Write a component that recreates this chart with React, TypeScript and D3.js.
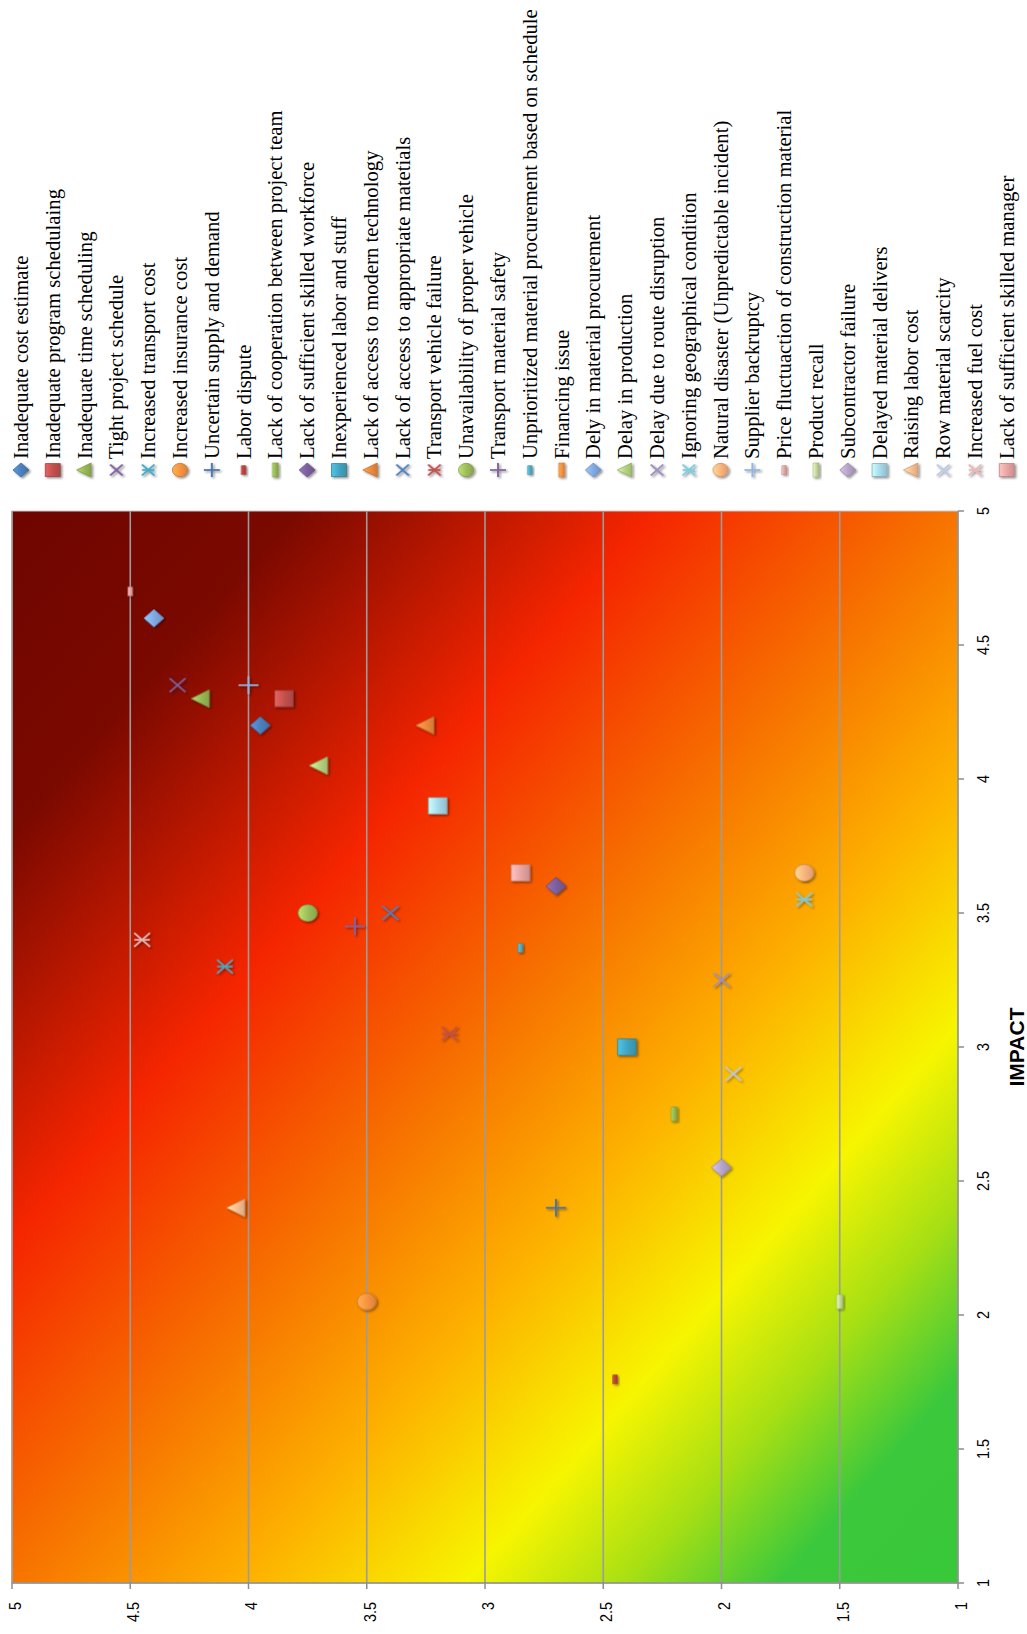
import React from 'react';
import * as d3 from 'd3';

const riskFactors: string[] = [
  'Inadequate cost estimate',
  'Inadequate program schedulaing',
  'Inadequate time scheduling',
  'Tight project schedule',
  'Increased transport cost',
  'Increased insurance cost',
  'Uncertain supply and demand',
  'Labor dispute',
  'Lack of cooperation between project team',
  'Lack of sufficient skilled workforce',
  'Inexperienced labor and stuff',
  'Lack of access to modern technology',
  'Lack of access to appropriate matetials',
  'Transport vehicle failure',
  'Unavailability of proper vehicle',
  'Transport material safety',
  'Unprioritized material procurement based on schedule',
  'Financing issue',
  'Dely in material procurement',
  'Delay in production',
  'Delay due to route disruption',
  'Ignoring geographical condition',
  'Natural disaster (Unpredictable incident)',
  'Supplier backruptcy',
  'Price fluctuaction of construction material',
  'Product recall',
  'Subcontractor failure',
  'Delayed material delivers',
  'Raising labor cost',
  'Row material scarcity',
  'Increased fuel cost',
  'Lack of sufficient skilled manager',
];

const impactValues: number[] = [
  4.2, 4.3, 4.3, 4.35, 3.3, 2.05, 2.4, 1.76, 2.75, 3.6, 3.0, 4.2, 3.5, 3.05, 3.5, 3.45,
  3.37, 3.65, 4.6, 4.05, 3.25, 3.55, 3.65, 4.35, 4.7, 2.05, 2.55, 3.9, 2.4, 2.9, 3.4, 3.65,
];

const probabilityValues: number[] = [
  3.95, 3.85, 4.2, 4.3, 4.1, 3.5, 2.7, 2.45, 2.2, 2.7, 2.4, 3.25, 3.4, 3.15, 3.75, 3.55,
  2.85, 1.65, 4.4, 3.7, 2.0, 1.65, 1.65, 4.0, 4.5, 1.5, 2.0, 3.2, 4.05, 1.95, 4.45, 2.85,
];

const markerShapes: string[] = [
  'diamond', 'square', 'triangle', 'x', 'star', 'circle', 'plus', 'dot', 'dash',
  'diamond', 'square', 'triangle', 'x', 'star', 'circle', 'plus', 'dot', 'dash',
  'diamond', 'triangle', 'x', 'star', 'circle', 'plus', 'dot', 'dash',
  'diamond', 'square', 'triangle', 'x', 'star', 'square',
];

const seriesColors: string[] = [
  '#4a7ebb', '#c0504d', '#98b954', '#7d60a0', '#46aac5', '#f69240',
  '#4672b0', '#b8403d', '#93b552', '#7a5e9c', '#3fa3bf', '#ee8a3c',
  '#4f7fbe', '#c0504d', '#9bbb59', '#8064a2', '#4bacc6', '#f49040',
  '#7ea6e0', '#b5d47f', '#a08fc0', '#7fcce0', '#f9b27a', '#8eb4e3',
  '#e6a09e', '#c3d69b', '#b3a2c7', '#a5d8e8', '#fac090', '#b9c9e6',
  '#e6b9b8', '#e6a3a1',
];

const impactTicks: number[] = [1, 1.5, 2, 2.5, 3, 3.5, 4, 4.5, 5];
const probabilityTicks: number[] = [1, 1.5, 2, 2.5, 3, 3.5, 4, 4.5, 5];

const W = 1027;
const H = 1634;
// unrotated frame: width = H, height = W
const plot = { left: 51, right: 1123, top: 12, bottom: 958 };

const xScale = d3.scaleLinear().domain([1, 5]).range([plot.left, plot.right]);
const yScale = d3.scaleLinear().domain([1, 5]).range([plot.bottom, plot.top]);

const bgStops: [number, string][] = [
  [0, '#6f0500'],
  [0.15, '#7a0900'],
  [0.34, '#f52500'],
  [0.5, '#f77400'],
  [0.62, '#fdb000'],
  [0.74, '#f7f500'],
  [0.825, '#a6df14'],
  [0.905, '#3cc83c'],
  [1, '#38c838'],
];

function Marker({ shape, color, gid, s }: { shape: string; color: string; gid: string; s: number }) {
  const dark = (d3.color(color) as d3.RGBColor).darker(0.7).formatHex();
  const fill = `url(#${gid})`;
  const sw = 0.8;
  const a = s * 0.78;
  switch (shape) {
    case 'diamond':
      return <path d={`M0,${-s}L${s},0L0,${s}L${-s},0Z`} fill={fill} stroke={dark} strokeWidth={sw} />;
    case 'square':
      return <rect x={-s * 0.92} y={-s * 0.92} width={s * 1.84} height={s * 1.84} fill={fill} stroke={dark} strokeWidth={sw} />;
    case 'triangle':
      return <path d={`M0,${-s}L${s},${s * 0.8}L${-s},${s * 0.8}Z`} fill={fill} stroke={dark} strokeWidth={sw} />;
    case 'circle':
      return <circle r={s * 0.95} fill={fill} stroke={dark} strokeWidth={sw} />;
    case 'x':
      return (
        <g stroke={color} strokeWidth={1.9}>
          <line x1={-a} y1={-a} x2={a} y2={a} />
          <line x1={-a} y1={a} x2={a} y2={-a} />
        </g>
      );
    case 'star':
      return (
        <g stroke={color} strokeWidth={1.9}>
          <line x1={-a} y1={-a} x2={a} y2={a} />
          <line x1={-a} y1={a} x2={a} y2={-a} />
          <line x1={0} y1={-a} x2={0} y2={a} />
        </g>
      );
    case 'plus':
      return (
        <g stroke={color} strokeWidth={1.9}>
          <line x1={-s} y1={0} x2={s} y2={0} />
          <line x1={0} y1={-s} x2={0} y2={s} />
        </g>
      );
    case 'dot':
      return <rect x={-5} y={-2.2} width={10} height={4.4} fill={fill} stroke={dark} strokeWidth={0.5} />;
    case 'dash':
      return <rect x={-8} y={-3} width={16} height={6} fill={fill} stroke={dark} strokeWidth={0.5} />;
    default:
      return null;
  }
}

export default function App() {
  const legendY = (i: number) => 21 + 31.8 * i;
  const legendMarkerX = H - 470;
  const legendTextX = H - 459;

  return (
    <svg
      width={W}
      height={H}
      viewBox={`0 0 ${W} ${H}`}
      style={{ position: 'absolute', left: 0, top: 0, background: '#fff' }}
    >
      <defs>
        <linearGradient id="bg" x1="1" y1="0" x2="0" y2="1">
          {bgStops.map(([o, c], i) => (
            <stop key={i} offset={o} stopColor={c} />
          ))}
        </linearGradient>
        {seriesColors.map((c, i) => {
          const col = d3.color(c) as d3.RGBColor;
          return (
            <linearGradient key={i} id={`m${i}`} x1="0" y1="0" x2="0" y2="1">
              <stop offset="0" stopColor={col.brighter(0.55).formatHex()} />
              <stop offset="0.55" stopColor={c} />
              <stop offset="1" stopColor={col.darker(0.35).formatHex()} />
            </linearGradient>
          );
        })}
        <filter id="shadow" x="-50%" y="-50%" width="200%" height="200%">
          <feDropShadow dx="-1.6" dy="1.6" stdDeviation="1.2" floodColor="#000" floodOpacity="0.45" />
        </filter>
      </defs>
      <g transform={`translate(0,${H}) rotate(-90)`}>
        {/* plot background */}
        <rect
          x={plot.left}
          y={plot.top}
          width={plot.right - plot.left}
          height={plot.bottom - plot.top}
          fill="url(#bg)"
          stroke="#c8c8c8"
          strokeWidth={1}
        />
        {/* gridlines */}
        {probabilityTicks.slice(1).map((t) => (
          <line
            key={t}
            x1={plot.left}
            x2={plot.right}
            y1={yScale(t)}
            y2={yScale(t)}
            stroke="#9c9c9c"
            strokeWidth={1.6}
          />
        ))}
        {/* axes */}
        <line x1={plot.left} x2={plot.left} y1={plot.top} y2={plot.bottom} stroke="#8c8c8c" strokeWidth={1.5} />
        <line x1={plot.left} x2={plot.right} y1={plot.bottom} y2={plot.bottom} stroke="#8c8c8c" strokeWidth={1.5} />
        {probabilityTicks.map((t) => (
          <g key={`pt${t}`}>
            <line x1={plot.left - 6} x2={plot.left} y1={yScale(t)} y2={yScale(t)} stroke="#8c8c8c" strokeWidth={1.5} />
            <text
              transform={`translate(32,${yScale(t) + 3}) scale(0.85,1)`}
              textAnchor="end"
              dy="0.35em"
              fontFamily="'Liberation Sans', Arial, sans-serif"
              fontSize={17}
              fill="#000"
            >
              {String(t)}
            </text>
          </g>
        ))}
        {impactTicks.map((t) => (
          <g key={`it${t}`}>
            <line x1={xScale(t)} x2={xScale(t)} y1={plot.bottom} y2={plot.bottom + 6} stroke="#8c8c8c" strokeWidth={1.5} />
            <text
              transform={`translate(${xScale(t)},989) scale(0.85,1)`}
              textAnchor="middle"
              fontFamily="'Liberation Sans', Arial, sans-serif"
              fontSize={17}
              fill="#000"
            >
              {String(t)}
            </text>
          </g>
        ))}
        <text
          x={(plot.left + plot.right) / 2}
          y={1024}
          textAnchor="middle"
          fontFamily="'Liberation Sans', Arial, sans-serif"
          fontWeight="bold"
          fontSize={21}
          fill="#000"
        >
          IMPACT
        </text>
        {/* data points */}
        {riskFactors.map((name, i) => (
          <g
            key={name}
            transform={`translate(${xScale(impactValues[i])},${yScale(probabilityValues[i])}) scale(0.88,1)`}
            filter="url(#shadow)"
          >
            <Marker shape={markerShapes[i]} color={seriesColors[i]} gid={`m${i}`} s={10} />
          </g>
        ))}
        {/* legend */}
        {riskFactors.map((name, i) => (
          <g key={`lg${i}`}>
            <g transform={`translate(${legendMarkerX},${legendY(i)}) scale(0.88,1)`} filter="url(#shadow)">
              <Marker shape={markerShapes[i]} color={seriesColors[i]} gid={`m${i}`} s={8} />
            </g>
            <text
              x={legendTextX}
              y={legendY(i) + 7}
              fontFamily="'Liberation Serif', 'Times New Roman', serif"
              fontSize={20.7}
              fill="#000"
            >
              {name}
            </text>
          </g>
        ))}
      </g>
    </svg>
  );
}
